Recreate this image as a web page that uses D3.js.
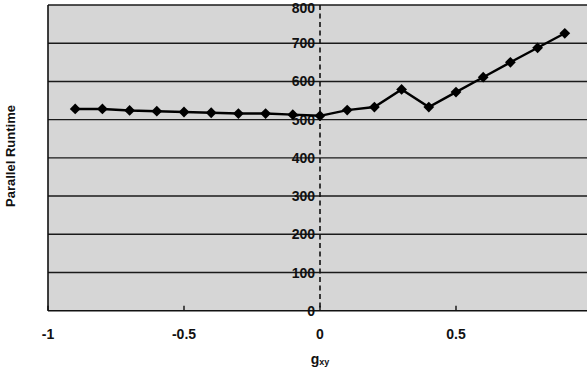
<!DOCTYPE html>
<html><head><meta charset="utf-8">
<script src="https://cdn.jsdelivr.net/npm/d3@7"></script>
<style>body{margin:0;background:#fff;}svg{display:block;font-family:"Liberation Sans",Arial,sans-serif;}</style>
</head><body>
<svg id="c" width="587" height="376"></svg>
<script>
const gxy = [-0.9,-0.8,-0.7,-0.6,-0.5,-0.4,-0.3,-0.2,-0.1,0,0.1,0.2,0.3,0.4,0.5,0.6,0.7,0.8,0.9];
const runtime = [528,528,524,522,520,518,516,516,513,510,525,533,579,533,572,611,650,688,726];
const xTicks = [-1,-0.5,0,0.5];
const xTickLabels = ["-1","-0.5","0","0.5"];
const yTicks = [0,100,200,300,400,500,600,700,800];

const svg = d3.select("#c");
const x = d3.scaleLinear().domain([-1,1]).range([48,592]);
const y = d3.scaleLinear().domain([0,800]).range([310.7,5]);

// plot background
svg.append("rect").attr("x",x(-1)).attr("y",y(800)).attr("width",587-x(-1)).attr("height",y(0)-y(800)).attr("fill","#d6d6d6");

// gridlines
svg.append("g").selectAll("line").data(yTicks.filter(d=>d>0)).join("line")
  .attr("x1",x(-1)).attr("x2",587).attr("y1",d=>y(d)).attr("y2",d=>y(d))
  .attr("stroke","#1a1a1a").attr("stroke-width",1.4);

// axes lines
svg.append("line").attr("x1",x(-1)).attr("x2",x(-1)).attr("y1",y(800)).attr("y2",y(0)).attr("stroke","#111").attr("stroke-width",1.6);
svg.append("line").attr("x1",x(-1)).attr("x2",587).attr("y1",y(0)).attr("y2",y(0)).attr("stroke","#111").attr("stroke-width",1.6);

// x ticks (inward)
svg.append("g").selectAll("line").data(xTicks).join("line")
  .attr("x1",d=>x(d)).attr("x2",d=>x(d)).attr("y1",y(0)).attr("y2",y(0)-5)
  .attr("stroke","#111").attr("stroke-width",1.4);

// dashed vertical axis at 0
svg.append("line").attr("x1",x(0)).attr("x2",x(0)).attr("y1",y(800)).attr("y2",y(0))
  .attr("stroke","#111").attr("stroke-width",1.6).attr("stroke-dasharray","5,3.5");

// y tick labels
svg.append("g").selectAll("text").data(yTicks).join("text")
  .attr("x",x(0)-5).attr("y",d=>y(d)).attr("dy",d=>d===800?"0.55em":"0.36em").attr("text-anchor","end")
  .attr("font-size",14).attr("font-weight","bold").attr("fill","#111").text(d=>d);

// x tick labels
svg.append("g").selectAll("text").data(xTicks).join("text")
  .attr("x",d=>x(d)).attr("y",339).attr("text-anchor","middle")
  .attr("font-size",14).attr("font-weight","bold").attr("fill","#111").text((d,i)=>xTickLabels[i]);

// x axis title
const xt = svg.append("text").attr("x",x(0)).attr("y",364).attr("text-anchor","middle")
  .attr("font-weight","bold").attr("fill","#111");
xt.append("tspan").attr("font-size",14).text("g");
xt.append("tspan").attr("font-size",9).attr("dy",1).text("xy");

// y axis title
svg.append("text").attr("transform","translate(15,156) rotate(-90)").attr("text-anchor","middle")
  .attr("font-size",13).attr("font-weight","bold").attr("fill","#111").text("Parallel Runtime");

// series line
const line = d3.line().x((d,i)=>x(gxy[i])).y(d=>y(d));
svg.append("path").datum(runtime).attr("d",line).attr("fill","none").attr("stroke","#000").attr("stroke-width",2.4);

// markers
const sym = d3.symbol().type(d3.symbolSquare).size(58);
svg.append("g").selectAll("path").data(runtime).join("path")
  .attr("d",sym).attr("transform",(d,i)=>`translate(${x(gxy[i])},${y(d)}) rotate(45)`)
  .attr("fill","#000");
</script>
</body></html>
